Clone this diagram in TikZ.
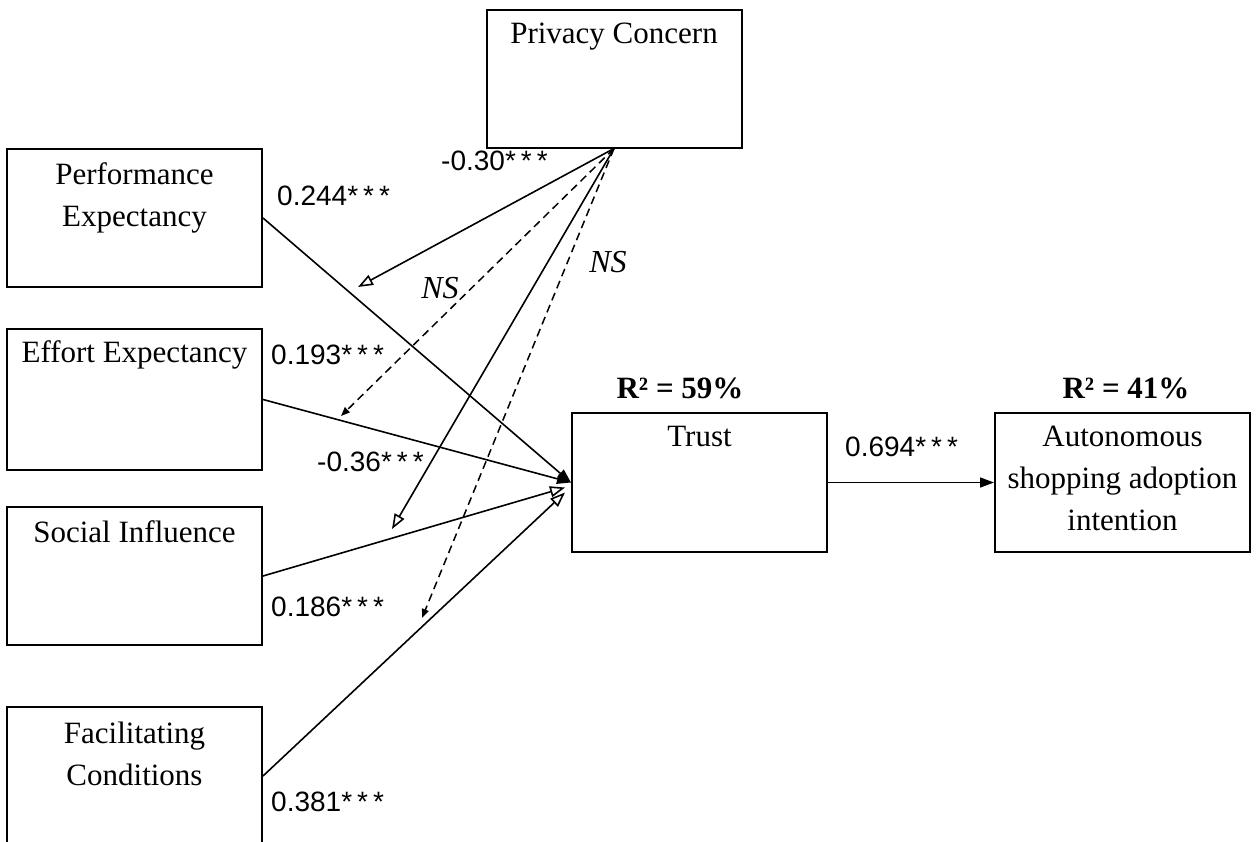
\documentclass[tikz,border=0pt]{standalone}
\usepackage{fontspec}
\setmainfont{Liberation Serif}
\newfontfamily\coeffont{Liberation Sans}
\usetikzlibrary{arrows.meta, positioning}

\newcommand{\stars}{*\kern5pt*\kern5pt*}

\begin{document}
\begin{tikzpicture}[
    x=1pt, y=-1pt,
    box/.style={
        rectangle,
        draw=black,
        line width=2pt,
        minimum width=255pt,
        minimum height=138pt,
        inner sep=0pt
    },
    box text/.style={
        inner sep=0pt,
        align=center,
        font=\fontsize{31}{42}\selectfont
    },
    coef/.style={
        inner sep=0pt,
        anchor=west,
        font=\coeffont\fontsize{28}{30}\selectfont
    },
    ns/.style={
        inner sep=0pt,
        font=\itshape\fontsize{32}{32}\selectfont
    },
    rsq/.style={
        inner sep=0pt,
        font=\bfseries\fontsize{31}{32}\selectfont
    },
    arrow/.style={
        -{Triangle[length=14pt, width=10pt]},
        line width=1.6pt
    },
    arrow open/.style={
        -{Triangle[open, length=15pt, width=11pt]},
        line width=1.6pt
    },
    ns arrow/.style={
        -{Triangle[length=9pt, width=7pt]},
        line width=1.5pt,
        dash pattern=on 8pt off 5pt
    }
]
\clip (0,0) rectangle (1256,841);

% constructs
\node[box] (pc) at (614,78.5) {};
\node[box text, below=14pt of pc.north] (pc label) {Privacy Concern};

\node[box] (pe) at (134.5,218) {};
\node[box text, below=14pt of pe.north] (pe label) {Performance\\Expectancy};

\node[box, minimum height=141pt] (ee) at (134.5,399.5) {};
\node[box text, below=12pt of ee.north] (ee label) {Effort Expectancy};

\node[box] (si) at (134.5,576) {};
\node[box text, below=14pt of si.north] (si label) {Social Influence};

\node[box] (fc) at (134.5,776) {};
\node[box text, below=16pt of fc.north] (fc label) {Facilitating\\Conditions};

\node[box, minimum height=139pt] (trust) at (699.5,482.5) {};
\node[box text, below=14pt of trust.north] (trust label) {Trust};

\node[box, minimum height=139pt] (auto) at (1122.5,482.5) {};
\node[box text, below=14pt of auto.north] (auto label) {Autonomous\\shopping adoption\\intention};

% explained variance
\node[rsq] (trust rsq) at (680,388) {R² = 59\%};
\node[rsq] (auto rsq) at (1126,388) {R² = 41\%};

% moderation ends
\coordinate (pe end) at (358,287);
\coordinate (ee end) at (341,416);
\coordinate (si end) at (392,529);
\coordinate (fc end) at (422,618);

% paths
\draw[arrow] (pe.east) -- (trust.west);
\draw[arrow] (ee.east) -- (trust.west);
\draw[arrow open] (si.east) -- ([xshift=-6pt,yshift=-5pt]trust.west);
\draw[arrow open] (fc.east) -- ([xshift=-6pt,yshift=-10pt]trust.west);
\draw[arrow] (trust) -- (auto);

\draw[arrow open] (pc.south) -- (pe end);
\draw[ns arrow] (pc.south) -- (ee end);
\draw[arrow open] (pc.south) -- (si end);
\draw[ns arrow] (pc.south) -- (fc end);

% coefficients
\node[coef] (c pe) at (277,196) {0.244\stars};
\node[coef] (c ee) at (271,355) {0.193\stars};
\node[coef] (c si) at (271,607) {0.186\stars};
\node[coef] (c fc) at (271,802) {0.381\stars};
\node[coef] (c trust) at (845,447) {0.694\stars};
\node[coef] (c pe mod) at (441,161) {-0.30\stars};
\node[coef] (c si mod) at (317,462) {-0.36\stars};
\node[ns] (ns ee) at (440,288) {NS};
\node[ns] (ns fc) at (608,262) {NS};

\end{tikzpicture}
\end{document}
